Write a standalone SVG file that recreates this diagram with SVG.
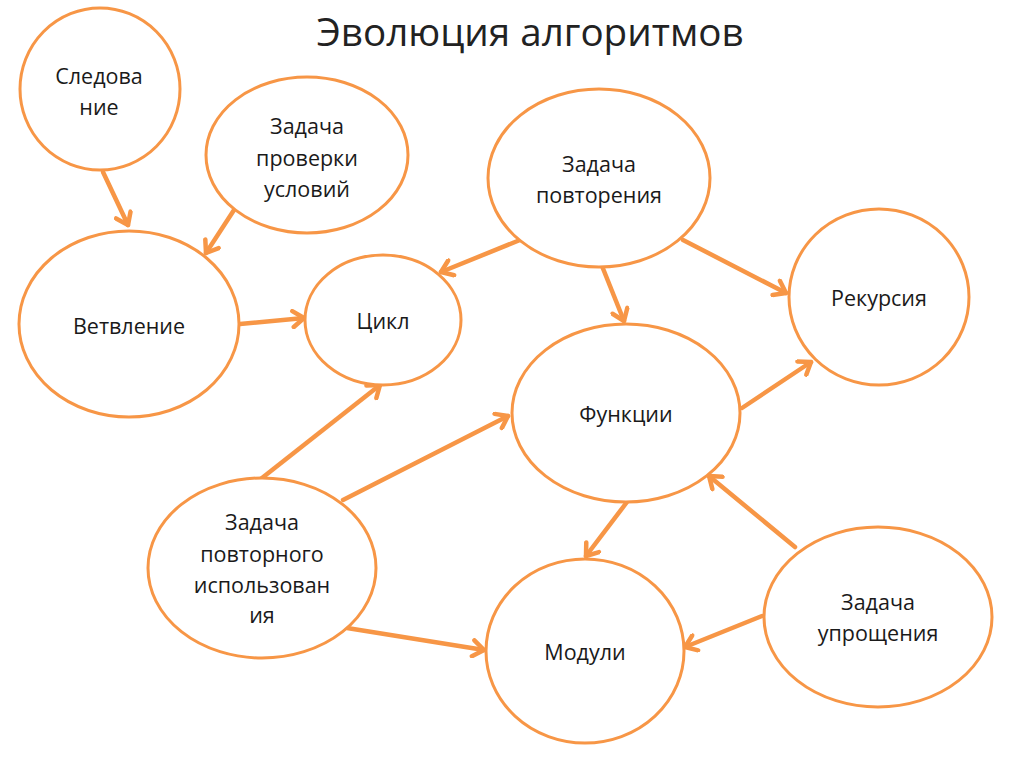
<svg xmlns="http://www.w3.org/2000/svg" width="1024" height="767" viewBox="0 0 1024 767">
<defs>
<marker id="ah" viewBox="0 0 20 20" refX="17" refY="10" markerWidth="20" markerHeight="20" markerUnits="userSpaceOnUse" orient="auto">
<path d="M6,2 L17,10 L6,18" fill="none" stroke="#F79646" stroke-width="4.5" stroke-linecap="round" stroke-linejoin="round"/>
</marker>
</defs>
<style>
.n{fill:#fff;stroke:#F79646;stroke-width:3}
.t{font-family:"Open Sans","Liberation Sans",sans-serif;font-size:21.5px;fill:#1a1a1a;text-anchor:middle;dominant-baseline:central}
.c line{stroke:#F79646;stroke-width:4.5;stroke-linecap:round;marker-end:url(#ah)}
</style>
<rect width="1024" height="767" fill="#fff"/>
<text x="530" y="31" font-family="'Open Sans','Liberation Sans',sans-serif" font-size="38.6" fill="#222" text-anchor="middle" dominant-baseline="central">Эволюция алгоритмов</text>
<g class="c" id="connectors">
<line x1="103" y1="172" x2="128" y2="225"/>
<line x1="234" y1="210" x2="206" y2="253"/>
<line x1="240" y1="324" x2="304" y2="318"/>
<line x1="520" y1="240" x2="441" y2="272"/>
<line x1="683" y1="240" x2="786" y2="293"/>
<line x1="602" y1="266" x2="624" y2="321"/>
<line x1="262" y1="478" x2="380" y2="385"/>
<line x1="343" y1="500" x2="508" y2="416"/>
<line x1="742" y1="408" x2="811" y2="362"/>
<line x1="627" y1="502" x2="586" y2="556"/>
<line x1="795" y1="547" x2="709" y2="476"/>
<line x1="347" y1="628" x2="484" y2="650"/>
<line x1="762" y1="616" x2="685" y2="647"/>
</g>
<g id="n1"><ellipse class="n" cx="100" cy="89" rx="80" ry="81"/><text class="t" x="99" y="75">Следова</text><text class="t" x="99" y="106">ние</text></g>
<g id="n2"><ellipse class="n" cx="307" cy="155" rx="101" ry="78"/><text class="t" x="307" y="125">Задача</text><text class="t" x="307" y="157">проверки</text><text class="t" x="307" y="188">условий</text></g>
<g id="n3"><ellipse class="n" cx="599" cy="178" rx="111" ry="89"/><text class="t" x="599" y="163">Задача</text><text class="t" x="599" y="194">повторения</text></g>
<g id="n4"><ellipse class="n" cx="129" cy="324" rx="110" ry="93"/><text class="t" x="129" y="325">Ветвление</text></g>
<g id="n5"><ellipse class="n" cx="383" cy="320" rx="78" ry="65"/><text class="t" x="383" y="320">Цикл</text></g>
<g id="n6"><ellipse class="n" cx="879" cy="297" rx="90" ry="88"/><text class="t" x="879" y="297">Рекурсия</text></g>
<g id="n7"><ellipse class="n" cx="626" cy="413" rx="114" ry="89"/><text class="t" x="626" y="413">Функции</text></g>
<g id="n8"><ellipse class="n" cx="262" cy="568" rx="114" ry="90"/><text class="t" x="262" y="521">Задача</text><text class="t" x="262" y="553">повторного</text><text class="t" x="262" y="584">использован</text><text class="t" x="262" y="614">ия</text></g>
<g id="n9"><ellipse class="n" cx="585" cy="651" rx="99" ry="92"/><text class="t" x="585" y="651">Модули</text></g>
<g id="n10"><ellipse class="n" cx="878" cy="617" rx="114" ry="90"/><text class="t" x="878" y="601">Задача</text><text class="t" x="878" y="632">упрощения</text></g>
</svg>
